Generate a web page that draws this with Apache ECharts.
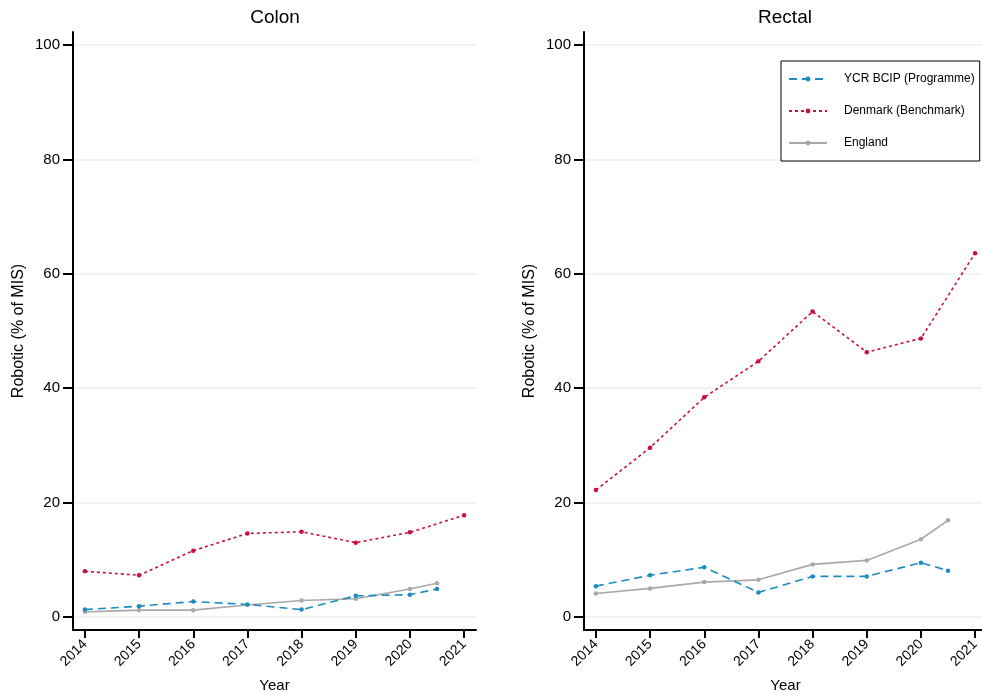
<!DOCTYPE html>
<html>
<head>
<meta charset="utf-8">
<script src="https://cdn.jsdelivr.net/npm/echarts@6/dist/echarts.min.js"></script>
<style>
html,body{margin:0;padding:0;background:#fff;}
#chart{width:982px;height:696px;}
</style>
</head>
<body>
<div id="chart"></div>
<script>
// ---- Data ----
var panelTitles = ['Colon', 'Rectal'];
var seriesNames = ['YCR BCIP (Programme)', 'Denmark (Benchmark)', 'England'];
var yearTicks = [2014, 2015, 2016, 2017, 2018, 2019, 2020, 2021];
var yTicks = [0, 20, 40, 60, 80, 100];
var yearsDenmark = [2014, 2015, 2016, 2017, 2018, 2019, 2020, 2021];
var yearsOther = [2014, 2015, 2016, 2017, 2018, 2019, 2020, 2020.5];

var colonYCR = [1.3, 1.9, 2.7, 2.2, 1.3, 3.7, 3.9, 4.9];
var colonDenmark = [8.0, 7.3, 11.6, 14.6, 14.9, 13.0, 14.8, 17.8];
var colonEngland = [0.9, 1.2, 1.2, 2.1, 2.9, 3.2, 4.9, 5.9];

var rectalYCR = [5.4, 7.3, 8.7, 4.3, 7.1, 7.1, 9.5, 8.1];
var rectalDenmark = [22.2, 29.6, 38.4, 44.7, 53.4, 46.3, 48.7, 63.6];
var rectalEngland = [4.1, 5.0, 6.1, 6.5, 9.2, 9.9, 13.6, 16.9];

function pair(xs, ys) { return xs.map(function (x, i) { return [x, ys[i]]; }); }

var FONT = '"Liberation Sans", Arial, Helvetica, sans-serif';
var colors = ['#1a8cbf', '#c8103e', '#a9a9a9'];
var lineTypes = [[8, 5], [3, 3], 'solid'];

var chart = echarts.init(document.getElementById('chart'), null, { renderer: 'canvas' });

function makeX(idx) {
  return {
    type: 'value', gridIndex: idx, min: 2013.78, max: 2021.22,
    name: 'Year', nameLocation: 'middle', nameGap: 48,
    nameTextStyle: { fontFamily: FONT, fontSize: 15, color: '#000' },
    axisLine: { show: true, onZero: false, lineStyle: { color: '#000', width: 2 } },
    axisTick: { show: true, inside: false, length: 8, customValues: yearTicks, lineStyle: { color: '#000', width: 2 } },
    axisLabel: { customValues: yearTicks, rotate: 45, margin: 12, fontFamily: FONT, fontSize: 14, color: '#000',
      formatter: function (v) { return String(Math.round(v)); } },
    splitLine: { show: false }
  };
}
function makeY(idx) {
  return {
    type: 'value', gridIndex: idx, min: -2.27, max: 102.27,
    name: 'Robotic (% of MIS)', nameLocation: 'middle', nameGap: 46, nameRotate: 90,
    nameTextStyle: { fontFamily: FONT, fontSize: 16, color: '#000' },
    axisLine: { show: true, onZero: false, lineStyle: { color: '#000', width: 2 } },
    axisTick: { show: true, inside: false, length: 10, customValues: yTicks, lineStyle: { color: '#000', width: 2 } },
    axisLabel: { customValues: yTicks, margin: 13, fontFamily: FONT, fontSize: 15, color: '#000',
      formatter: function (v) { return String(Math.round(v)); } },
    splitLine: { show: true, lineStyle: { color: '#e9eff1', width: 1.5 } }
  };
}

var allData = [
  [pair(yearsOther, colonYCR), pair(yearsDenmark, colonDenmark), pair(yearsOther, colonEngland)],
  [pair(yearsOther, rectalYCR), pair(yearsDenmark, rectalDenmark), pair(yearsOther, rectalEngland)]
];

var series = [];
for (var p = 0; p < 2; p++) {
  for (var s = 0; s < 3; s++) {
    series.push({
      type: 'line', name: seriesNames[s], xAxisIndex: p, yAxisIndex: p,
      data: allData[p][s], symbol: 'circle', symbolSize: 4.5, showSymbol: true,
      z: 3 - s + (s === 2 ? 0 : 1),
      itemStyle: { color: colors[s] },
      lineStyle: { color: colors[s], width: 1.6, type: lineTypes[s] },
      animation: false
    });
  }
}

chart.setOption({
  animation: false,
  backgroundColor: '#fff',
  textStyle: { fontFamily: FONT },
  grid: [
    { left: 73, top: 32, width: 403, height: 598, containLabel: false, outerBoundsMode: 'none' },
    { left: 584, top: 32, width: 403, height: 598, containLabel: false, outerBoundsMode: 'none' }
  ],
  xAxis: [makeX(0), makeX(1)],
  yAxis: [makeY(0), makeY(1)],
  legend: {
    data: seriesNames, orient: 'vertical', left: 781, top: 61,
    padding: [12, 5, 12, 7], itemGap: 20, itemWidth: 38, itemHeight: 6,
    borderColor: '#000', borderWidth: 1, backgroundColor: '#fff',
    textStyle: { fontFamily: FONT, fontSize: 12, color: '#000', padding: [0, 0, 0, 12] },
    selectedMode: false
  },
  graphic: [
    { type: 'text', x: 275, y: 18, style: { text: panelTitles[0], font: '19px ' + FONT, fill: '#000', textAlign: 'center', textVerticalAlign: 'middle' } },
    { type: 'text', x: 785, y: 18, style: { text: panelTitles[1], font: '19px ' + FONT, fill: '#000', textAlign: 'center', textVerticalAlign: 'middle' } }
  ],
  series: series
});
</script>
</body>
</html>
